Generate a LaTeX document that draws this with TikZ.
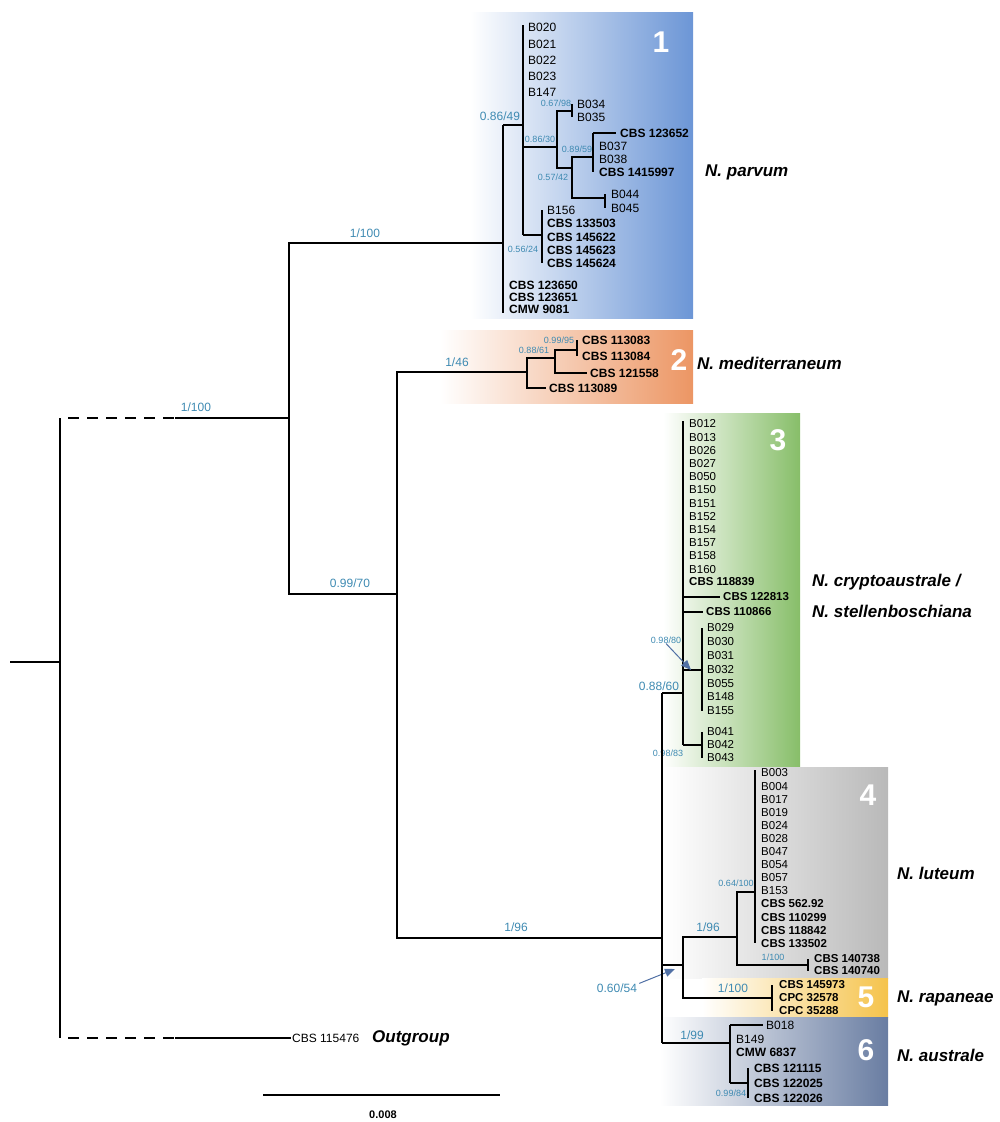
\documentclass[tikz,border=0pt]{standalone}
\usepackage{fontspec}
\setmainfont{Liberation Sans}
\usetikzlibrary{arrows.meta}
\definecolor{supblue}{RGB}{62,138,178}
\definecolor{ptrblue}{RGB}{80,112,165}
\definecolor{parvumc}{RGB}{108,150,214}
\definecolor{meditc}{RGB}{236,150,100}
\definecolor{cryptc}{RGB}{135,190,105}
\definecolor{luteumc}{RGB}{185,185,185}
\definecolor{rapanc}{RGB}{245,195,75}
\definecolor{australc}{RGB}{105,125,162}
\begin{document}
\begin{tikzpicture}[
  x=1pt,y=-1pt,
  branch/.style={line width=2.6pt},
  dashbranch/.style={line width=2.6pt, dash pattern=on 11pt off 8pt},
  tip/.style={anchor=west, inner xsep=1pt, inner ysep=0pt, font=\fontsize{12}{12}\selectfont},
  tipb/.style={tip, font=\fontsize{12}{12}\selectfont\bfseries},
  tipn/.style={tip, font=\fontsize{11.5}{11.5}\selectfont},
  tipnb/.style={tip, font=\fontsize{11.5}{11.5}\selectfont\bfseries},
  supp/.style={text=supblue, inner sep=0pt, font=\fontsize{12}{12}\selectfont},
  supps/.style={supp, font=\fontsize{9}{9}\selectfont},
  taxon/.style={anchor=west, inner sep=0pt, font=\fontsize{17}{17}\selectfont\bfseries\itshape},
  cnum/.style={text=white, inner sep=0pt, font=\fontsize{30}{30}\selectfont\bfseries},
  pointer/.style={-{Triangle[width=8pt,length=10pt]}, draw=ptrblue, line width=1pt}
]
\useasboundingbox (0,0) rectangle (999,1122);

% clade backgrounds
\shade[left color=white, right color=parvumc] (470,12) rectangle (693,318);
\shade[left color=white, right color=meditc] (440,330) rectangle (693,403);
\shade[left color=white, right color=cryptc] (663,413) rectangle (800,766);
\shade[left color=white, right color=luteumc] (665,767) rectangle (888,978);
\shade[left color=white, right color=rapanc] (702,978) rectangle (888,1017);
\shade[left color=white, right color=australc] (660,1017) rectangle (888,1105);
\node[cnum] (num1) at (661,42) {1};
\node[cnum] (num2) at (679,360) {2};
\node[cnum] (num3) at (778,440) {3};
\node[cnum] (num4) at (868,795) {4};
\node[cnum] (num5) at (866,997) {5};
\node[cnum] (num6) at (866,1050) {6};

% backbone
\coordinate (base) at (10,662);
\coordinate (root) at (60,662);
\coordinate (dashU) at (175,418);
\coordinate (dashD) at (175,1038);
\coordinate (nA) at (289,418);
\coordinate (nB) at (397,594);
\coordinate (nD) at (662,938);
\coordinate (nE) at (683,965);
\draw[branch] (base) -- (root);
\draw[branch] (root |- dashU) -- (root |- dashD);
\draw[dashbranch] ([xshift=8pt]root |- dashU) -- (dashU);
\draw[dashbranch] ([xshift=8pt]root |- dashD) -- (dashD);
\draw[branch] (dashU) -- (nA);
\node[tip] (og) at (291,1038) {CBS 115476};
\node[taxon] (ogt) at (372,1038) {Outgroup};
\draw[branch] (dashD) -- (og.west);
\node[supp] (s1) at (196,407) {1/100};
\node[supp] (s2) at (365,233) {1/100};
\node[supp] (s3) at (350,583) {0.99/70};
\node[supp] (s4) at (457,362) {1/46};
\node[supp] (s5) at (516,927) {1/96};

% clade 1
\coordinate (c1) at (503,243);
\coordinate (c1a) at (523,125);
\coordinate (c1b) at (557,147);
\coordinate (c1c) at (572,111);
\coordinate (c1d) at (572,168);
\coordinate (c1e) at (593,157);
\coordinate (c1f) at (605,198);
\coordinate (c1g) at (542,235);
\foreach \lab/\y [count=\i] in {B020/27,B021/44,B022/60,B023/76,B147/92}
  \node[tip] (pa\i) at (527,\y) {\lab};
\node[tip] (pb1) at (576,104) {B034};
\node[tip] (pb2) at (576,117) {B035};
\node[tipb] (pc1) at (619,133) {CBS 123652};
\node[tip] (pc2) at (598,146) {B037};
\node[tip] (pc3) at (598,159) {B038};
\node[tipb] (pc4) at (598,172) {CBS 1415997};
\node[tip] (pd1) at (610,194) {B044};
\node[tip] (pd2) at (610,208) {B045};
\node[tip] (pe1) at (546,210) {B156};
\foreach \lab/\y [count=\i from 2] in {CBS 133503/223,CBS 145622/237,CBS 145623/250,CBS 145624/263}
  \node[tipb] (pe\i) at (546,\y) {\lab};
\foreach \lab/\y [count=\i] in {CBS 123650/285,CBS 123651/297,CMW 9081/309}
  \node[tipb] (pf\i) at (508,\y) {\lab};
\draw[branch] (c1) -| (nA) |- (nB);
\draw[branch] (c1 |- c1a) -- ([yshift=-4pt]c1 |- pf3);
\draw[branch] (c1 |- c1a) -- (c1a);
\draw[branch] ([yshift=2pt]c1a |- pa1) -- (c1a |- c1g);
\draw[branch] (c1a |- c1b) -- (c1b);
\draw[branch] (c1a |- c1g) -- (c1g);
\draw[branch] (c1c) -| (c1b) |- (c1d);
\draw[branch] (c1c |- pb1) -- (c1c |- pb2);
\draw[branch] (c1e) -| (c1d) |- (c1f);
\draw[branch] (c1e |- pc1) -- ([xshift=-3pt]pc1.west);
\draw[branch] (c1e |- pc1) -- (c1e |- pc4);
\draw[branch] (c1f |- pd1) -- (c1f |- pd2);
\draw[branch] (c1g |- pe1) -- (c1g |- pe5);
\node[supp] (s6) at (500,116) {0.86/49};
\node[supps] (s7) at (540,139) {0.86/30};
\node[supps] (s8) at (556,103) {0.67/98};
\node[supps] (s9) at (577,149) {0.89/59};
\node[supps] (s10) at (553,177) {0.57/42};
\node[supps] (s11) at (523,249) {0.56/24};
\node[taxon] (t1) at (705,172) {N. parvum};

% clade 2
\coordinate (c2) at (527,372);
\coordinate (c2a) at (555,358);
\coordinate (c2b) at (577,350);
\node[tipb] (m1) at (581,340) {CBS 113083};
\node[tipb] (m2) at (581,356) {CBS 113084};
\node[tipb] (m3) at (589,373) {CBS 121558};
\node[tipb] (m4) at (548,388) {CBS 113089};
\draw[branch] (c2) -| (nB) |- (nD);
\draw[branch] (c2a) -| (c2) |- ([xshift=-2pt]m4.west);
\draw[branch] (c2b) -| (c2a) |- ([xshift=-2pt]m3.west);
\draw[branch] (c2b |- m1) -- (c2b |- m2);
\node[supps] (s12) at (534,350) {0.88/61};
\node[supps] (s13) at (559,340) {0.99/95};
\node[taxon] (t2) at (697,363) {N. mediterraneum};

% clade 3
\coordinate (c3) at (683,693);
\coordinate (c3a) at (702,670);
\coordinate (c3b) at (702,745);
\foreach \lab [count=\i] in {B012,B013,B026,B027,B050,B150,B151,B152,B154,B157,B158,B160}
  \node[tipn] (k\i) at (688,{424+13.2*(\i-1)}) {\lab};
\node[tipnb] (k13) at (688,582) {CBS 118839};
\node[tipnb] (k14) at (722,597) {CBS 122813};
\node[tipnb] (k15) at (705,612) {CBS 110866};
\foreach \lab [count=\i] in {B029,B030,B031,B032,B055,B148,B155}
  \node[tipn] (ka\i) at (706,{628+13.8*(\i-1)}) {\lab};
\foreach \lab [count=\i] in {B041,B042,B043}
  \node[tipn] (kb\i) at (706,{732+13*(\i-1)}) {\lab};
\draw[branch] (nD |- c3) -- (c3);
\draw[branch] ([yshift=3pt]c3 |- k1) -- (c3 |- c3b);
\draw[branch] (c3 |- k14) -- ([xshift=-2pt]k14.west);
\draw[branch] (c3 |- k15) -- ([xshift=-2pt]k15.west);
\draw[branch] (c3 |- c3a) -- (c3a);
\draw[branch] (c3 |- c3b) -- (c3b);
\draw[branch] (c3a |- ka1) -- (c3a |- ka7);
\draw[branch] (c3b |- kb1) -- (c3b |- kb3);
\node[supp] (s14) at (659,686) {0.88/60};
\node[supps] (s15) at (666,640) {0.98/80};
\coordinate (pt1) at (691,670);
\draw[pointer] (s15.south) -- (pt1);
\node[supps] (s16) at (668,753) {0.98/83};
\node[taxon] (t3) at (812,582) {N. cryptoaustrale /};
\node[taxon] (t3b) at (812,611) {N. stellenboschiana};

% clades 4 and 5
\coordinate (c4) at (737,937);
\coordinate (c4a) at (755,892);
\coordinate (c4b) at (808,965);
\coordinate (c5) at (772,998);
\foreach \lab [count=\i] in {B003,B004,B017,B019,B024,B028,B047,B054,B057,B153}
  \node[tipn] (l\i) at (760,{773+13.1*(\i-1)}) {\lab};
\foreach \lab [count=\i from 11] in {CBS 562.92,CBS 110299,CBS 118842,CBS 133502}
  \node[tipnb] (l\i) at (760,{773+13.1*(\i-1)}) {\lab};
\node[tipnb] (l15) at (813,959) {CBS 140738};
\node[tipnb] (l16) at (813,971) {CBS 140740};
\node[tipnb] (r1) at (778,985) {CBS 145973};
\node[tipnb] (r2) at (778,998) {CPC 32578};
\node[tipnb] (r3) at (778,1011) {CPC 35288};
\draw[branch] (nD |- nE) -- (nE);
\draw[branch] (c4) -| (nE) |- (c5);
\draw[branch] (c4a) -| (c4) |- (c4b);
\draw[branch] ([yshift=3pt]c4a |- l1) -- (c4a |- l14);
\draw[branch] (c4b |- l15) -- (c4b |- l16);
\draw[branch] (c5 |- r1) -- (c5 |- r3);
\node[supp] (s17) at (708,927) {1/96};
\node[supps] (s18) at (736,883) {0.64/100};
\node[supps] (s19) at (773,957) {1/100};
\node[supp] (s20) at (733,988) {1/100};
\node[supp] (s21) at (617,988) {0.60/54};
\coordinate (pt2) at (675,969);
\draw[pointer] ([xshift=2pt]s21.north east) -- (pt2);
\node[taxon] (t4) at (897,873) {N. luteum};
\node[taxon] (t5) at (897,998) {N. rapaneae};

% clade 6
\coordinate (c6) at (730,1043);
\coordinate (c6a) at (748,1083);
\node[tip] (u1) at (765,1025) {B018};
\node[tip] (u2) at (735,1039) {B149};
\node[tipb] (u3) at (735,1052) {CMW 6837};
\node[tipb] (u4) at (753,1068) {CBS 121115};
\node[tipb] (u5) at (753,1083) {CBS 122025};
\node[tipb] (u6) at (753,1098) {CBS 122026};
\draw[branch] (nD |- c3) -- (nD |- c6);
\draw[branch] (nD |- c6) -- (c6);
\draw[branch] (c6 |- u1) -- (c6 |- c6a);
\draw[branch] (c6 |- u1) -- ([xshift=-2pt]u1.west);
\draw[branch] (c6 |- c6a) -- (c6a);
\draw[branch] (c6a |- u4) -- (c6a |- u6);
\node[supp] (s22) at (692,1035) {1/99};
\node[supps] (s23) at (731,1093) {0.99/84};
\node[taxon] (t6) at (897,1055) {N. australe};

% scale bar
\coordinate (sb1) at (263,1095);
\coordinate (sb2) at (500,1095);
\draw[line width=1.8pt] (sb1) -- (sb2);
\node[inner sep=0pt, font=\fontsize{11}{11}\selectfont\bfseries] (sbl) at (383,1115) {0.008};
\end{tikzpicture}
\end{document}
